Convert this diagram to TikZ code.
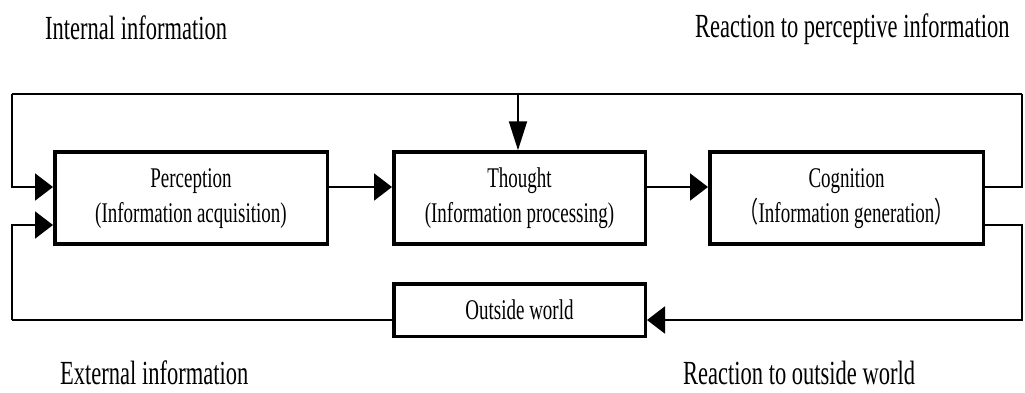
\documentclass[tikz,border=0pt]{standalone}
\usepackage{fontspec}
\setmainfont{Liberation Serif}
\newfontfamily\cjk{Noto Sans CJK SC}
\usetikzlibrary{arrows.meta}
\newcommand{\vstr}[1]{\scalebox{1}[1.5]{#1}}
\begin{document}
\begin{tikzpicture}[x=1pt,y=-1pt,
  blk/.style={draw=black,line width=3.5pt,fill=white,inner sep=0pt,align=center,
    font=\fontsize{19}{23}\selectfont},
  lbl/.style={inner sep=0pt,anchor=base west,font=\fontsize{22.5}{27}\selectfont},
  conn/.style={line width=2pt,line join=miter},
  harr/.style={conn,-{Triangle[length=18pt,width=27pt]}},
  varr/.style={conn,-{Triangle[length=29pt,width=18pt]}}]
\useasboundingbox (0,0) rectangle (1025,392);
% boxes
\node[blk,minimum width=272.5pt,minimum height=92pt] (perc) at (191,198)
  {\vstr{\begin{tabular}{c}Perception\\(Information acquisition)\end{tabular}}};
\node[blk,minimum width=251.5pt,minimum height=92pt] (thought) at (519.5,198)
  {\vstr{\begin{tabular}{c}Thought\\(Information processing)\end{tabular}}};
\node[blk,minimum width=273.5pt,minimum height=92pt] (cog) at (846.5,198)
  {\vstr{\begin{tabular}{c}Cognition\\{\cjk （}Information generation{\cjk ）}\end{tabular}}};
\node[blk,minimum width=251.5pt,minimum height=52.5pt] (world) at (519.5,310)
  {\vstr{Outside world}};
% labels
\node[lbl] (l1) at (45,39) {\vstr{Internal information}};
\node[lbl] (l2) at (695,37) {\vstr{Reaction to perceptive information}};
\node[lbl] (l3) at (60,384) {\vstr{External information}};
\node[lbl] (l4) at (683,384) {\vstr{Reaction to outside world}};
% helper coordinates
\coordinate (tl) at (12,94);
\coordinate (tr) at (1022,94);
\coordinate (bl) at (12,320);
\coordinate (br) at (1022,320);
\coordinate (ya) at (0,187);
\coordinate (yb) at (0,225);
\coordinate (tx) at (518,94);
% connectors
\draw[conn] (tl) -- (tr);
\draw[harr] (tl) -- (tl |- ya) -- (perc.west |- ya);
\draw[harr] (bl) -- (bl |- yb) -- (perc.west |- yb);
\draw[conn] (world.west |- bl) -- (bl);
\draw[harr] (perc.east |- ya) -- (thought.west |- ya);
\draw[harr] (thought.east |- ya) -- (cog.west |- ya);
\draw[varr] (tx) -- (tx |- thought.north);
\draw[conn] (cog.east |- ya) -- (tr |- ya) -- (tr);
\draw[harr] (cog.east |- yb) -- (br |- yb) -- (br) -- (world.east |- br);
\end{tikzpicture}
\end{document}
